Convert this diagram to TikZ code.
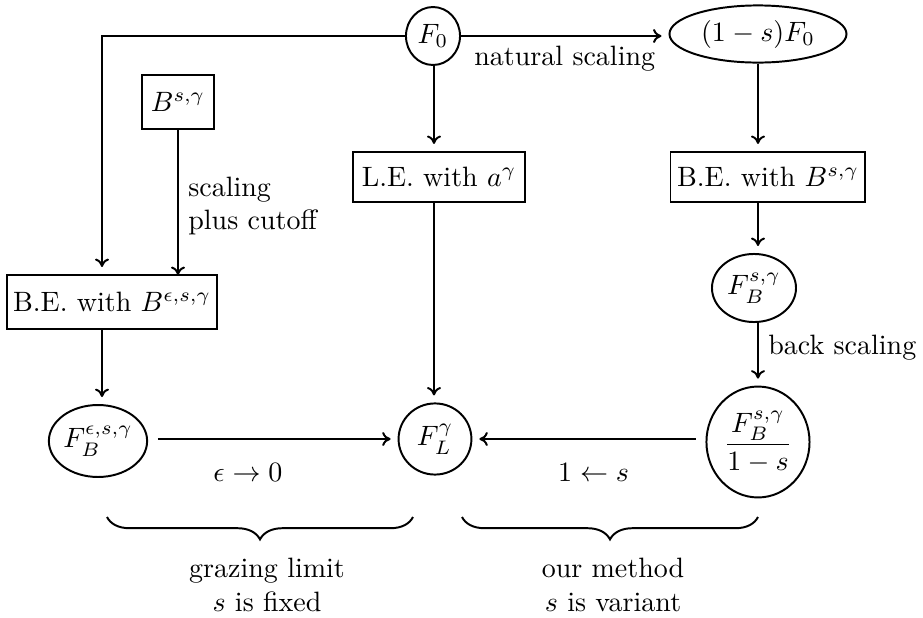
\documentclass[tikz,border=0pt]{standalone}
\usetikzlibrary{shapes.geometric,decorations.pathreplacing,calc,arrows.meta}
\begin{document}
\begin{tikzpicture}[x=0.357pt,y=-0.357pt,
  box/.style={draw,line width=0.7pt,rectangle,inner sep=0pt},
  oval/.style={draw,line width=0.7pt,ellipse,inner sep=0pt},
  arr/.style={-{To[length=3pt,width=5pt]},line width=0.7pt,shorten >=2.5pt},
  brc/.style={line width=0.7pt,decorate,decoration={brace,mirror,amplitude=8pt}}]
\useasboundingbox (0,0) rectangle (923,618);
% nodes
\node[oval,minimum width=19.3pt,minimum height=20.7pt] (F0) at (433,36) {$F_0$};
\node[oval,minimum width=63.2pt,minimum height=20.4pt] (E1) at (758,34) {$(1-s)F_0$};
\node[box,minimum width=25.7pt,minimum height=19.3pt] (Bs) at (178,102) {$B^{s,\gamma}$};
\node[box,minimum width=61.4pt,minimum height=17.9pt] (LE) at (439,177) {L.E. with $a^\gamma$};
\node[box,minimum width=69.6pt,minimum height=17.9pt] (BER) at (768,177) {B.E. with $B^{s,\gamma}$};
\node[box,minimum width=75pt,minimum height=19.3pt] (BEL) at (112,302) {B.E. with $B^{\epsilon,s,\gamma}$};
\node[oval,minimum width=30pt,minimum height=24.3pt] (FBs) at (754,288) {$F_B^{s,\gamma}$};
\node[oval,minimum width=26pt,minimum height=25.4pt] (FL) at (435,439) {$F_L^\gamma$};
\node[oval,minimum width=36.8pt,minimum height=39.6pt] (FR) at (758,442) {$\displaystyle\frac{F_B^{s,\gamma}}{1-s}$};
\node[oval,minimum width=34.6pt,minimum height=25.7pt] (FBe) at (98,441) {$F_B^{\epsilon,s,\gamma}$};
% columns
\coordinate (cL) at (102,0);
\coordinate (cB) at (178,0);
\coordinate (cM) at (434,0);
\coordinate (cR) at (758,0);
% connectors
\draw[arr] (F0.west) -| (cL |- BEL.north);
\draw[arr] (F0.east) -- (F0.east -| E1.west) node[midway,below] {natural scaling};
\draw[arr] (cM |- F0.south) -- (cM |- LE.north);
\draw[arr] (cM |- LE.south) -- (cM |- FL.north);
\draw[arr] (cR |- E1.south) -- (cR |- BER.north);
\draw[arr] (cR |- BER.south) -- (cR |- FBs.north);
\draw[arr] (cR |- FBs.south) -- (cR |- FR.north) node[pos=0.4,right] {back scaling};
\draw[arr] (cB |- Bs.south) -- ($(cB |- BEL.north)+(0,8)$) node[midway,right,align=left] {scaling\\plus cutoff};
\draw[arr] (cL |- BEL.south) -- (cL |- FBe.north);
\draw[arr,shorten <=3.5pt] (FBe.east |- FL) -- (FL.west) node[pos=0.4,below=5pt] {$\epsilon\to0$};
\draw[arr,shorten <=3.5pt] (FR.west |- FL) -- (FL.east) node[pos=0.48,below=5pt] {$1\leftarrow s$};
% braces
\coordinate (b1s) at (107,517);
\coordinate (b1e) at (413,517);
\coordinate (b2s) at (462,517);
\coordinate (b2e) at (758,517);
\draw[brc] (b1s) -- (b1e);
\draw[brc] (b2s) -- (b2e);
\node[align=center] (t1) at (267,585) {grazing limit\\$s$ is fixed};
\node[align=center] (t2) at (613,585) {our method\\$s$ is variant};
\end{tikzpicture}
\end{document}
